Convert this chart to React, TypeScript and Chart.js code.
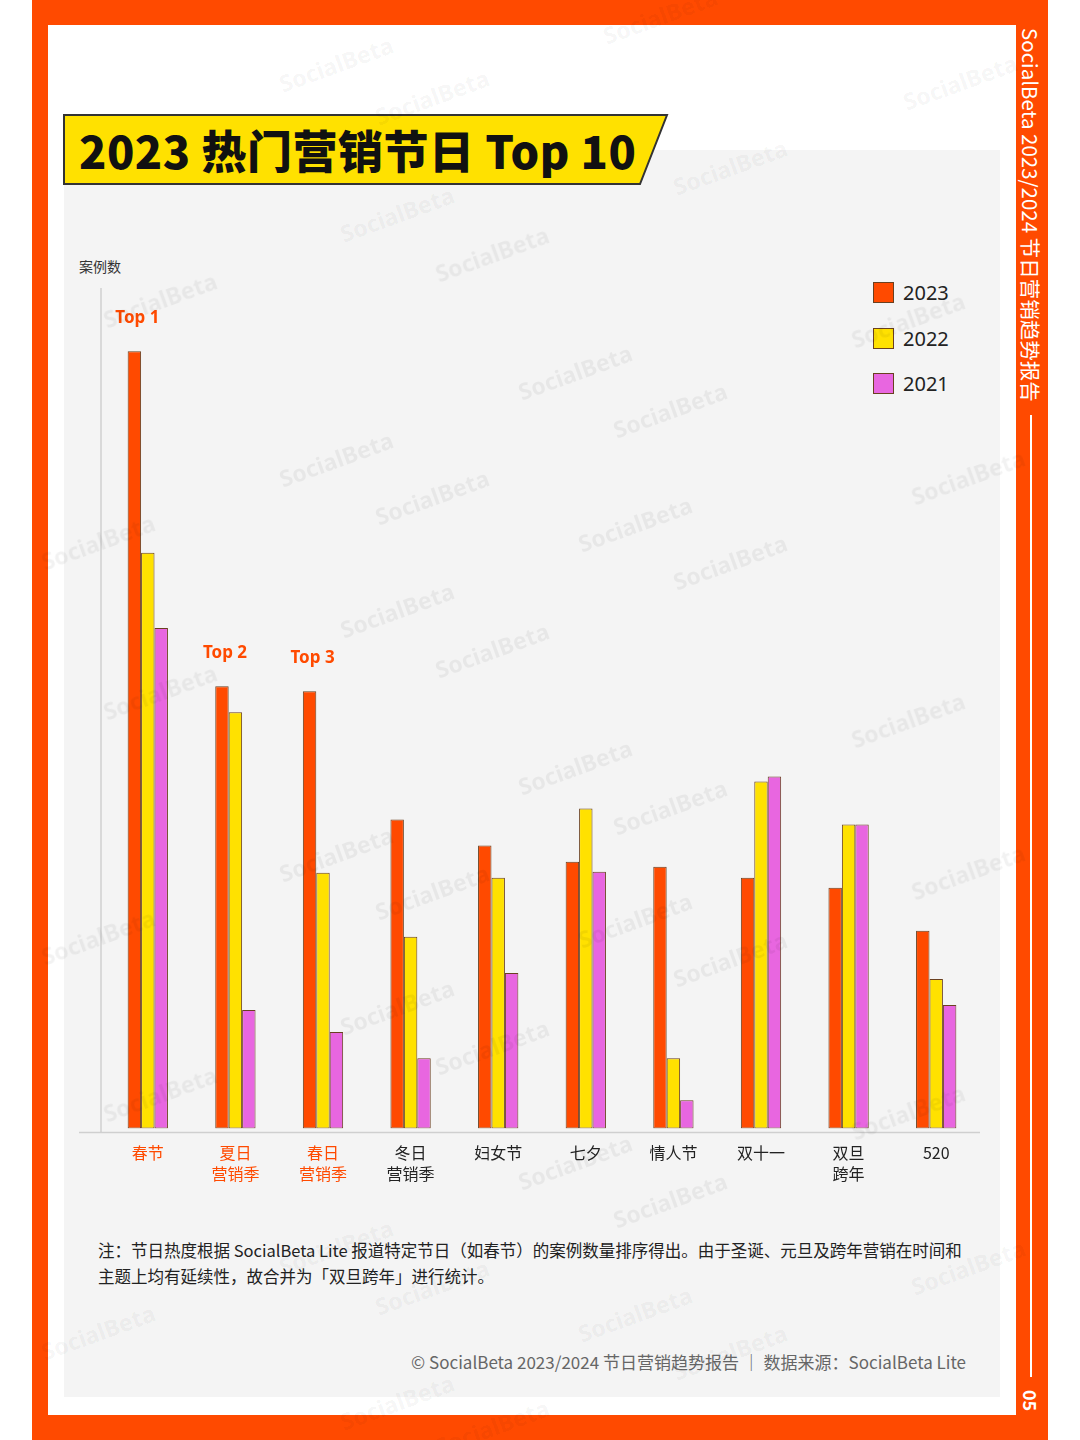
import React, { useEffect, useRef } from "react";
import { Chart, registerables } from "chart.js";

Chart.register(...registerables);

const categories: (string | string[])[] = [
  "春节",
  ["夏日", "营销季"],
  ["春日", "营销季"],
  ["冬日", "营销季"],
  "妇女节",
  "七夕",
  "情人节",
  "双十一",
  ["双旦", "跨年"],
  "520",
];
const highlightCount = 3;
const topLabels = ["Top 1", "Top 2", "Top 3"];
const seriesNames = ["2023", "2022", "2021"];
const values2023 = [775, 441, 436, 308, 282, 266, 261, 250, 240, 197];
const values2022 = [574, 415, 255, 191, 250, 319, 70, 346, 303, 149];
const values2021 = [499, 118, 96, 70, 155, 256, 28, 351, 303, 123];
const yMax = 836;

const COLORS = ["#ff4a00", "#ffe100", "#e866e0"];
const ORANGE = "#ff4a00";
const CJK = '"Noto Sans CJK SC", "Noto Sans", sans-serif';

const watermarks: [number, number][] = [
  [336, 62], [432, 95], [960, 80], [660, 14], [730, 165], [397, 212], [492, 252],
  [160, 298], [908, 318], [575, 370], [670, 408], [336, 457], [432, 495], [968, 475],
  [635, 522], [730, 560], [98, 540], [397, 608], [492, 648], [160, 690], [908, 718],
  [575, 765], [670, 805], [336, 852], [432, 890], [968, 870], [635, 918], [730, 957],
  [98, 935], [397, 1005], [492, 1045], [160, 1092], [908, 1110], [575, 1160],
  [670, 1198], [336, 1245], [432, 1285], [968, 1265], [635, 1312], [730, 1350],
  [98, 1330], [397, 1400], [492, 1425],
];

export default function App() {
  const canvasRef = useRef<HTMLCanvasElement | null>(null);

  useEffect(() => {
    if (!canvasRef.current) return;
    const axisPlugin = {
      id: "customAxes",
      afterDatasetsDraw(chart: any) {
        const { ctx, chartArea } = chart;
        ctx.save();
        ctx.strokeStyle = "#cfcfcf";
        ctx.lineWidth = 1.5;
        ctx.beginPath();
        ctx.moveTo(chartArea.left - 3, 8);
        ctx.lineTo(chartArea.left - 3, chartArea.bottom + 4);
        ctx.moveTo(chartArea.left - 25, chartArea.bottom + 4);
        ctx.lineTo(chartArea.right, chartArea.bottom + 4);
        ctx.stroke();
        // Top labels
        const meta = chart.getDatasetMeta(0);
        ctx.fillStyle = ORANGE;
        ctx.font = 'bold 17px "Noto Sans", "Open Sans", sans-serif';
        ctx.textAlign = "center";
        ctx.textBaseline = "middle";
        topLabels.forEach((t, i) => {
          const el = meta.data[i];
          if (el) ctx.fillText(t, el.x + 3, el.y - 33);
        });
        ctx.restore();
      },
    };

    const chart = new Chart(canvasRef.current, {
      type: "bar",
      data: {
        labels: categories,
        datasets: [values2023, values2022, values2021].map((d, i) => ({
          label: seriesNames[i],
          data: d,
          backgroundColor: COLORS[i],
          borderColor: "#6a4020",
          borderWidth: 1,
          borderSkipped: false,
          categoryPercentage: 0.46,
          barPercentage: 1.0,
        })),
      },
      options: {
        animation: false,
        responsive: false,
        maintainAspectRatio: false,
        layout: { padding: { left: 40, right: 20, top: 10, bottom: 12 } },
        plugins: {
          legend: { display: false },
          tooltip: { enabled: false },
        },
        scales: {
          x: {
            grid: { display: false, drawTicks: false },
            border: { display: false },
            ticks: {
              padding: 14,
              font: { family: CJK, size: 16, lineHeight: 1.3 },
              color: (c: any) => (c.index < highlightCount ? ORANGE : "#222"),
              maxRotation: 0,
              autoSkip: false,
            },
          },
          y: {
            display: false,
            min: 0,
            max: yMax,
          },
        },
      },
      plugins: [axisPlugin],
    } as any);
    return () => chart.destroy();
  }, []);

  return (
    <div
      style={{
        position: "absolute",
        left: 0,
        top: 0,
        width: 1080,
        height: 1440,
        overflow: "hidden",
        background: "#ffffff",
        fontFamily: CJK,
      }}
    >
      {/* orange frame */}
      <div style={{ position: "absolute", left: 32, top: 0, width: 1016, height: 1440, background: "#ff4a00" }} />
      <div style={{ position: "absolute", left: 48, top: 25, width: 968, height: 1390, background: "#ffffff" }} />
      {/* gray panel */}
      <div style={{ position: "absolute", left: 64, top: 150, width: 936, height: 1247, background: "#f4f4f4" }} />

      {/* watermarks */}
      {watermarks.map(([x, y], i) => (
        <div
          key={i}
          style={{
            position: "absolute",
            left: x - 60,
            top: y - 14,
            width: 120,
            textAlign: "center",
            fontFamily: '"Noto Sans", sans-serif',
            fontWeight: 700,
            fontSize: 23,
            color: "rgba(0,0,0,0.05)",
            transform: "rotate(-20deg)",
            whiteSpace: "nowrap",
            pointerEvents: "none",
            zIndex: 5,
          }}
        >
          SocialBeta
        </div>
      ))}

      {/* title banner */}
      <svg style={{ position: "absolute", left: 0, top: 0 }} width={1080} height={200}>
        <polygon points="64,115 667,115 640,184 64,184" fill="#ffe100" stroke="#333" strokeWidth={2} />
      </svg>
      <div
        style={{
          position: "absolute",
          left: 79,
          top: 118,
          height: 64,
          lineHeight: "64px",
          fontSize: 45,
          fontWeight: 900,
          color: "#111",
          whiteSpace: "nowrap",
          letterSpacing: 0.5,
        }}
      >
        2023 热门营销节日 Top 10
      </div>

      {/* y label */}
      <div style={{ position: "absolute", left: 79, top: 256, fontSize: 14, color: "#333" }}>案例数</div>

      {/* legend */}
      {seriesNames.map((n, i) => (
        <div key={n} style={{ position: "absolute", left: 873, top: 282 + i * 45.5, height: 21, display: "flex", alignItems: "center" }}>
          <div style={{ width: 19, height: 19, background: COLORS[i], border: "1px solid #6a4020" }} />
          <div style={{ marginLeft: 9, fontFamily: '"Noto Sans", sans-serif', fontSize: 20, color: "#222", lineHeight: "21px" }}>{n}</div>
        </div>
      ))}

      {/* chart */}
      <canvas
        ref={canvasRef}
        width={936}
        height={930}
        style={{ position: "absolute", left: 64, top: 280, width: 936, height: 930 }}
      />

      {/* note */}
      <div style={{ position: "absolute", left: 98, top: 1237, fontSize: 16.5, color: "#222", lineHeight: "26px", width: 900, whiteSpace: "nowrap" }}>
        注：节日热度根据 SocialBeta Lite 报道特定节日（如春节）的案例数量排序得出。由于圣诞、元旦及跨年营销在时间和
        <br />
        主题上均有延续性，故合并为「双旦跨年」进行统计。
      </div>

      {/* footer */}
      <div style={{ position: "absolute", right: 114, top: 1349, fontSize: 17, color: "#666", whiteSpace: "nowrap" }}>
        © SocialBeta 2023/2024 节日营销趋势报告 ｜ 数据来源：SocialBeta Lite
      </div>

      {/* right vertical strip */}
      <div
        style={{
          position: "absolute",
          left: 1031,
          top: 28,
          transformOrigin: "0 0",
          transform: "rotate(90deg) translateY(-50%)",
          whiteSpace: "nowrap",
          fontSize: 20.5,
          color: "#ffffff",
          lineHeight: "24px",
        }}
      >
        SocialBeta 2023/2024 节日营销趋势报告
      </div>
      <div style={{ position: "absolute", left: 1030, top: 415, width: 2, height: 962, background: "#ffffff" }} />
      <div
        style={{
          position: "absolute",
          left: 1031,
          top: 1390,
          transformOrigin: "0 0",
          transform: "rotate(90deg) translateY(-50%)",
          whiteSpace: "nowrap",
          fontSize: 18,
          fontWeight: 700,
          color: "#ffffff",
          lineHeight: "22px",
        }}
      >
        05
      </div>
    </div>
  );
}
